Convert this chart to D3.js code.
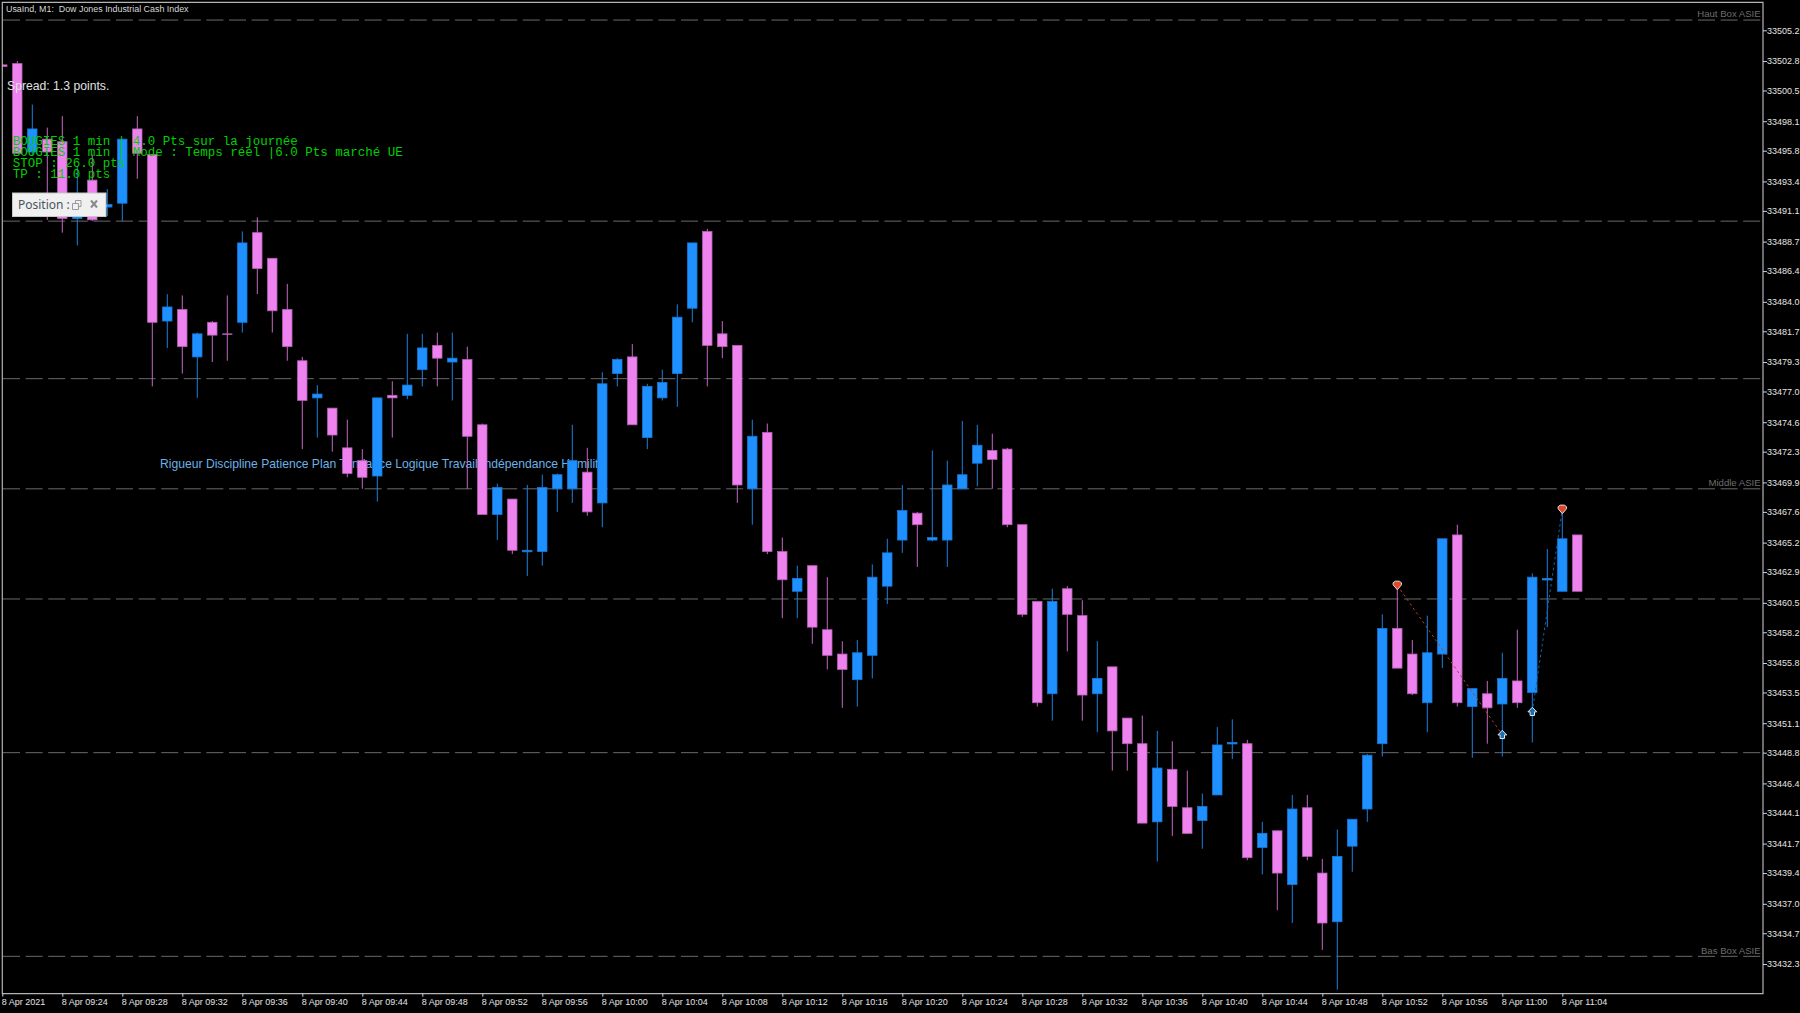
<!DOCTYPE html>
<html><head><meta charset="utf-8"><title>UsaInd M1</title>
<script src="https://cdn.jsdelivr.net/npm/d3@7/dist/d3.min.js"></script>
<style>html,body{margin:0;padding:0;background:#000;overflow:hidden}svg{display:block}</style>
</head><body><svg id="c" width="1800" height="1013"></svg>
<script>
const opens=[33502.5,33502.6,33495.7,33496.7,33496.5,33490.5,33493.5,33491.4,33491.7,33497.5,33495.5,33482.5,33483.4,33479.7,33482.4,33481.5,33482.4,33489.4,33487.4,33483.4,33479.4,33476.5,33475.7,33472.6,33471.6,33470.4,33476.7,33476.7,33478.7,33480.6,33479.3,33479.5,33474.4,33467.4,33468.6,33464.5,33464.5,33469.4,33469.4,33470.7,33468.3,33478.4,33479.7,33473.4,33476.5,33478.4,33483.5,33489.5,33481.5,33480.6,33469.4,33473.8,33464.5,33461.4,33463.4,33458.4,33456.5,33454.5,33456.4,33461.8,33465.4,33467.5,33465.4,33465.4,33469.4,33471.4,33472.4,33472.5,33466.6,33460.6,33453.4,33461.6,33459.5,33453.4,33455.5,33451.5,33449.5,33443.4,33447.5,33444.5,33443.5,33445.5,33449.5,33449.5,33441.4,33442.7,33438.5,33444.5,33439.4,33435.6,33441.5,33444.4,33449.5,33458.5,33456.5,33452.7,33456.5,33465.8,33452.4,33453.4,33452.6,33454.4,33453.5,33462.3,33461.4,33465.8];
const highs=[33502.6,33502.8,33499.4,33497.6,33498.5,33494.6,33495.5,33492.8,33496.7,33498.5,33495.5,33484.6,33484.5,33481.6,33482.5,33484.5,33489.5,33490.6,33487.4,33485.4,33479.7,33477.5,33475.7,33474.8,33472.5,33476.5,33477.8,33481.5,33481.5,33481.6,33481.6,33480.5,33474.5,33469.8,33468.6,33469.7,33470.5,33470.6,33474.4,33472.6,33478.5,33479.6,33480.7,33477.6,33478.7,33483.8,33488.6,33489.7,33482.5,33480.6,33474.8,33474.5,33465.6,33463.4,33463.4,33462.5,33457.5,33457.6,33463.5,33465.5,33469.7,33467.6,33472.4,33471.6,33474.7,33474.4,33473.7,33472.6,33466.6,33460.6,33461.6,33461.8,33460.7,33457.5,33455.5,33451.5,33451.7,33450.5,33449.7,33447.4,33445.6,33450.8,33451.4,33449.8,33443.4,33442.7,33445.5,33445.5,33440.5,33442.8,33443.6,33448.7,33459.6,33461.6,33457.6,33459.5,33465.5,33466.6,33453.8,33454.4,33456.6,33458.4,33462.8,33464.7,33467.6,33465.8];
const lows=[33502.4,33495.6,33495.4,33490.4,33489.4,33488.4,33490.3,33490.7,33490.3,33493.6,33477.4,33480.4,33478.4,33476.5,33479.3,33479.4,33481.6,33484.6,33481.6,33479.4,33472.5,33473.4,33472.3,33470.3,33469.4,33468.4,33473.4,33476.4,33477.4,33477.4,33476.3,33469.4,33467.4,33465.4,33464.3,33462.6,33463.4,33467.6,33468.3,33467.3,33466.4,33477.4,33474.4,33472.5,33476.3,33475.8,33482.4,33477.4,33479.6,33468.3,33466.6,33464.3,33459.3,33459.3,33457.3,33455.3,33452.3,33452.4,33454.6,33460.4,33464.4,33463.3,33465.3,33463.3,33469.4,33469.6,33469.4,33466.4,33459.4,33452.4,33451.3,33456.7,33451.3,33450.4,33447.4,33447.4,33443.3,33440.3,33442.3,33442.5,33441.3,33445.5,33448.3,33440.4,33439.3,33436.5,33435.5,33440.4,33433.4,33430.3,33439.5,33443.4,33448.5,33455.4,33453.3,33450.4,33455.4,33452.4,33448.4,33449.5,33448.5,33452.3,33449.6,33458.6,33461.4,33461.4];
const closes=[33502.4,33495.6,33497.5,33495.7,33490.5,33492.3,33490.4,33491.6,33496.7,33495.6,33482.4,33483.6,33480.5,33481.5,33481.4,33481.5,33488.6,33486.6,33483.3,33480.5,33476.3,33476.8,33473.6,33470.6,33470.3,33476.5,33476.5,33477.5,33480.4,33479.6,33479.6,33473.5,33467.4,33469.5,33464.6,33464.6,33469.5,33470.5,33471.6,33467.6,33477.6,33479.5,33474.4,33477.4,33477.7,33482.8,33488.6,33480.6,33480.5,33469.7,33473.5,33464.5,33462.3,33462.4,33458.6,33456.4,33455.3,33456.6,33462.5,33464.4,33467.7,33466.6,33465.6,33469.7,33470.5,33472.8,33471.7,33466.6,33459.6,33452.7,33460.6,33459.6,33453.3,33454.6,33450.5,33449.5,33443.3,33447.6,33444.6,33442.5,33444.6,33449.4,33449.6,33440.6,33442.5,33439.4,33444.4,33440.7,33435.5,33440.7,33443.6,33448.6,33458.5,33455.4,33453.4,33456.6,33465.5,33452.7,33453.8,33452.3,33454.6,33452.7,33462.5,33462.4,33465.5,33461.4];

const yTickValues=[33505.2,33502.8,33500.5,33498.1,33495.8,33493.4,33491.1,33488.7,33486.4,33484.0,33481.7,33479.3,33477.0,33474.6,33472.3,33469.9,33467.6,33465.2,33462.9,33460.5,33458.2,33455.8,33453.5,33451.1,33448.8,33446.4,33444.1,33441.7,33439.4,33437.0,33434.7,33432.3];
const xTickIndex=[0,4,8,12,16,20,24,28,32,36,40,44,48,52,56,60,64,68,72,76,80,84,88,92,96,100,104];
const xTickLabels=["8 Apr 2021","8 Apr 09:24","8 Apr 09:28","8 Apr 09:32","8 Apr 09:36","8 Apr 09:40","8 Apr 09:44","8 Apr 09:48","8 Apr 09:52","8 Apr 09:56","8 Apr 10:00","8 Apr 10:04","8 Apr 10:08","8 Apr 10:12","8 Apr 10:16","8 Apr 10:20","8 Apr 10:24","8 Apr 10:28","8 Apr 10:32","8 Apr 10:36","8 Apr 10:40","8 Apr 10:44","8 Apr 10:48","8 Apr 10:52","8 Apr 10:56","8 Apr 11:00","8 Apr 11:04"];
const levelValues=[33506.0,33490.3,33478.0,33469.4,33460.8,33448.8,33432.9];
const levelLabels=[{t:"Haut Box ASIE",v:33506.0},{t:"Middle ASIE",v:33469.4},{t:"Bas Box ASIE",v:33432.9}];
const sellMarks=[{i:93,v:33461.86},{i:104,v:33467.8}];
const buyMarks=[{i:100,v:33450.2},{i:102,v:33452.0}];
const tradeLines=[{a:{i:93,v:33461.86},b:{i:100,v:33450.2},c:"#b8401f"},{a:{i:102,v:33452.0},b:{i:104,v:33467.8},c:"#0f66ad"}];
const infoLines=["BOUGIES 1 min | 4.0 Pts sur la journée","BOUGIES 1 min | Mode : Temps réel |6.0 Pts marché UE","STOP : 26.0 pts","TP : 11.0 pts"];

const UP="#1e90ff",DOWN="#ee82ee",UPW="#1a80e0",DOWNW="#c468c4",UPE="#1878d8",DOWNE="#b45fb4";
const L=2.3,R=1763,T=2.3,B=993.7;
const x=d3.scaleLinear().domain([0,105]).range([2.3,1577.3]);
const y=d3.scaleLinear().domain([33432.3,33505.2]).range([964,30.3]);
const svg=d3.select("#c");
const SANS="'Liberation Sans',Arial,sans-serif";
svg.append("rect").attr("width",1800).attr("height",1013).attr("fill","#000");
svg.append("defs").append("clipPath").attr("id","plot").append("rect").attr("x",L).attr("y",T).attr("width",R-L).attr("height",B-T);

const plot=svg.append("g").attr("clip-path","url(#plot)");
plot.selectAll("line.lv").data(levelValues).join("line").attr("class","lv")
 .attr("x1",3).attr("x2",R).attr("y1",d=>y(d)).attr("y2",d=>y(d))
 .attr("stroke","#6a6a6a").attr("stroke-width",1).attr("stroke-dasharray","17,5.6");
svg.selectAll("text.lv").data(levelLabels).join("text").attr("class","lv")
 .attr("x",1760.7).attr("y",d=>y(d.v)-6.3).attr("text-anchor","end").attr("dominant-baseline","central")
 .attr("font-family",SANS).attr("font-size",9.6).attr("fill","#6e6e6e").text(d=>d.t);

plot.append("text").attr("x",160).attr("y",464).attr("dominant-baseline","central")
 .attr("font-family",SANS).attr("font-size",12.15).attr("fill","#6cb0e6")
 .text("Rigueur Discipline Patience Plan Tendance Logique Travail Indépendance Humilité");

const idx=d3.range(opens.length);
const isUp=i=>closes[i]>=opens[i]&&!(i===15);
plot.selectAll("line.w").data(idx).join("line").attr("class","w")
 .attr("x1",i=>x(i)).attr("x2",i=>x(i)).attr("y1",i=>y(highs[i])).attr("y2",i=>y(lows[i]))
 .attr("stroke",i=>isUp(i)?UPW:DOWNW).attr("stroke-width",1);
plot.selectAll("rect.b").data(idx).join("rect").attr("class","b")
 .attr("x",i=>x(i)-4.7).attr("width",9.4)
 .attr("y",i=>Math.min(y(opens[i]),y(closes[i])))
 .attr("height",i=>Math.max(Math.abs(y(opens[i])-y(closes[i])),i===15?0.5:1.5))
 .attr("fill",i=>isUp(i)?UP:DOWN)
 .attr("stroke",i=>isUp(i)?UPE:DOWNE).attr("stroke-width",0.8);

plot.selectAll("line.t").data(tradeLines).join("line").attr("class","t")
 .attr("x1",d=>x(d.a.i)).attr("y1",d=>y(d.a.v)).attr("x2",d=>x(d.b.i)).attr("y2",d=>y(d.b.v))
 .attr("stroke",d=>d.c).attr("stroke-width",1).attr("stroke-dasharray","2.5,3");
plot.selectAll("path.s").data(sellMarks).join("path").attr("class","s")
 .attr("d","M-4.2,-2.6L-2,-4.2L2,-4.2L4.2,-2.6L4.2,-0.6L0,4.4L-4.2,-0.6Z").attr("transform",d=>`translate(${x(d.i)},${y(d.v)})`)
 .attr("fill","#e0482a").attr("stroke","#e4dcd8").attr("stroke-width",1);
plot.selectAll("path.u").data(buyMarks).join("path").attr("class","u")
 .attr("d","M0,-4.4L4.4,0.2L2.2,0.2L2.2,3.8L-2.2,3.8L-2.2,0.2L-4.4,0.2Z").attr("transform",d=>`translate(${x(d.i)},${y(d.v)})`)
 .attr("fill","#1670b8").attr("stroke","#e4e8ec").attr("stroke-width",1);

// frame
svg.append("path").attr("d",`M${L},${B}V${T}H${R}V${B}Z`).attr("fill","none").attr("stroke","#b4b4b4").attr("stroke-width",1.2);

// axes
const yAxis=d3.axisRight(y).tickValues(yTickValues).tickFormat(d3.format(".1f")).tickSize(4).tickPadding(0);
const gy=svg.append("g").attr("transform",`translate(${R},0)`).call(yAxis);
gy.select(".domain").remove();
gy.selectAll("line").attr("stroke","#d0d0d0");
gy.selectAll("text").attr("font-family",SANS).attr("font-size",9).attr("fill","#e4e4e4");
const xAxis=d3.axisBottom(x).tickValues(xTickIndex).tickFormat((d,i)=>xTickLabels[i]).tickSize(3).tickPadding(2);
const gx=svg.append("g").attr("transform",`translate(0,${B})`).call(xAxis);
gx.select(".domain").remove();
gx.selectAll("line").attr("stroke","#d0d0d0");
gx.selectAll("text").attr("font-family",SANS).attr("font-size",9).attr("fill","#e4e4e4").attr("text-anchor","start").attr("dx",-1);

// overlays
svg.append("text").attr("x",6).attr("y",9).attr("dominant-baseline","central")
 .attr("font-family",SANS).attr("font-size",8.9).attr("fill","#d6d6d6")
 .style("white-space","pre").text("UsaInd, M1:  Dow Jones Industrial Cash Index");
svg.append("text").attr("x",7).attr("y",86).attr("dominant-baseline","central")
 .attr("font-family",SANS).attr("font-size",12.2).attr("fill","#e0e0e0").text("Spread: 1.3 points.");
svg.selectAll("text.info").data(infoLines).join("text").attr("class","info")
 .attr("x",12.7).attr("y",(d,i)=>141.6+i*11.1).attr("dominant-baseline","central")
 .attr("font-family","'Liberation Mono',monospace").attr("font-size",12.5).attr("fill","#00d000").text(d=>d);

const box=svg.append("g");
box.append("rect").attr("x",12.5).attr("y",193).attr("width",93.5).attr("height",23.5).attr("fill","#f0f0f0").attr("stroke","#c8c8c8").attr("stroke-width",1);
box.append("text").attr("x",18).attr("y",204).attr("dominant-baseline","central").attr("font-family","'Noto Sans',sans-serif").attr("font-size",12).attr("fill","#4a5560").text("Position :");
box.append("path").attr("d","M72.5,203.5h6v6h-6zM75.5,203v-2.5h5.5v6h-2").attr("fill","none").attr("stroke","#9a9a9a").attr("stroke-width",1);
box.append("path").attr("d","M91,200.5L97,207.5M97,200.5L91,207.5").attr("stroke","#8a8a8a").attr("stroke-width",2);
</script></body></html>
